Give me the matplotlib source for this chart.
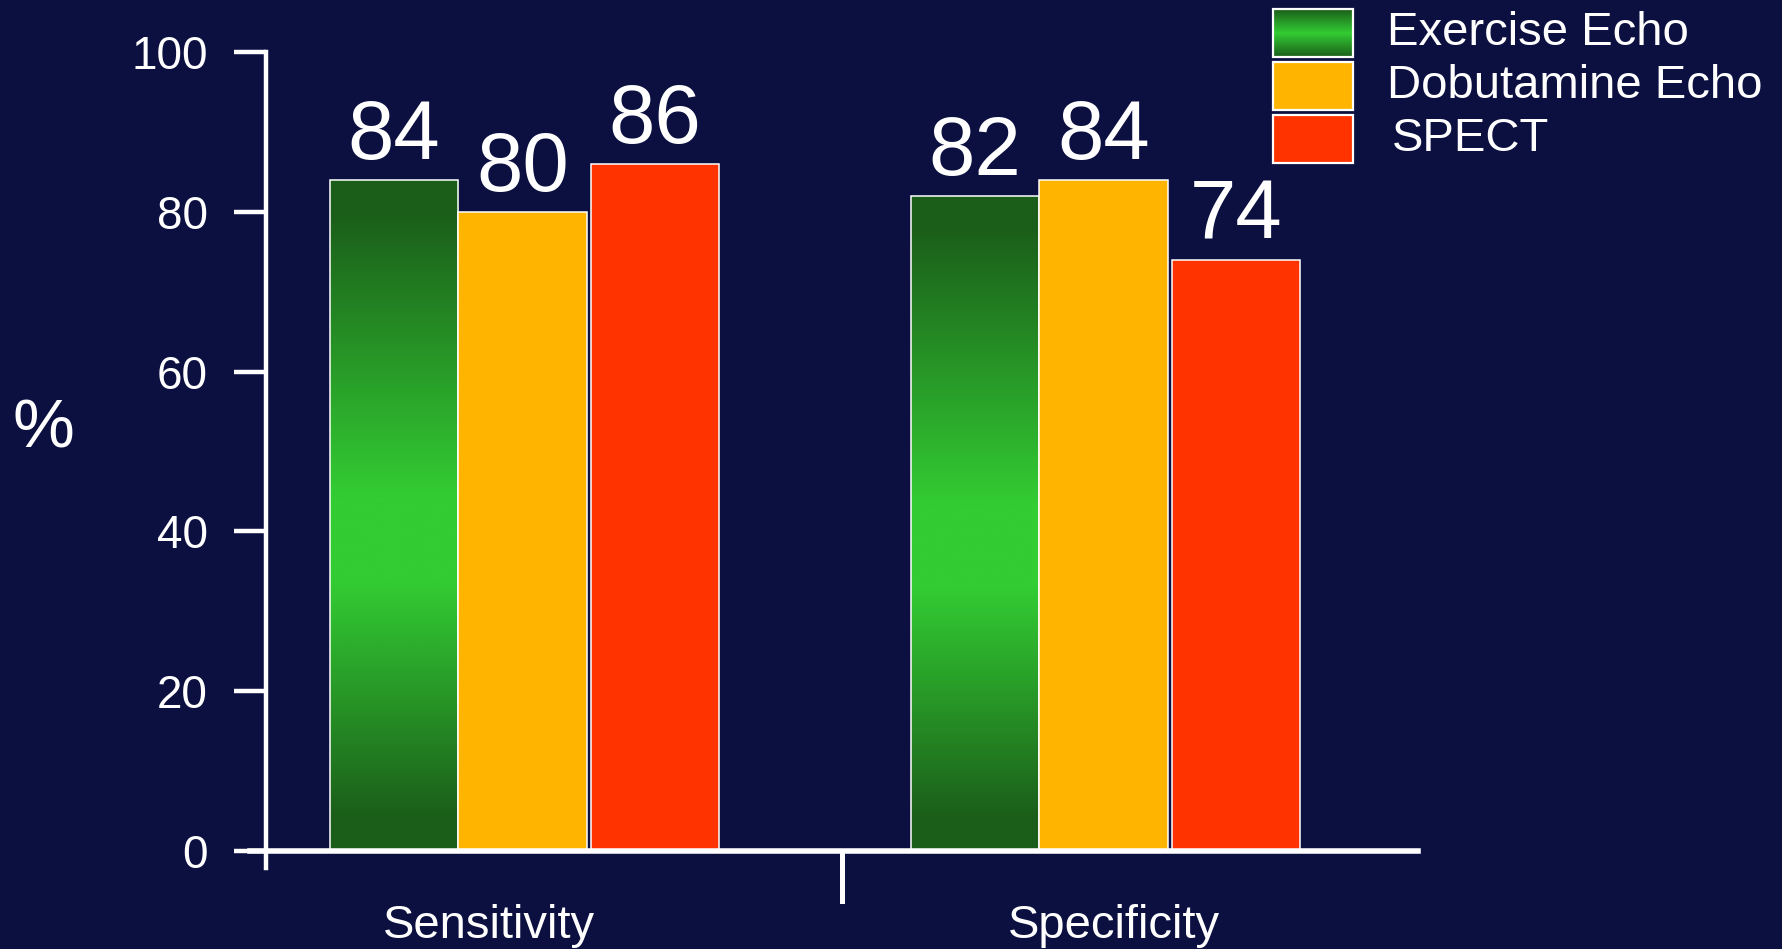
import matplotlib
matplotlib.use("Agg")
import matplotlib.pyplot as plt
import numpy as np
from matplotlib.colors import LinearSegmentedColormap
from matplotlib.patches import Rectangle

plt.rcParams['font.family'] = ['Liberation Sans', 'DejaVu Sans']

# ---- data ----
categories = ["Sensitivity", "Specificity"]
series_names = ["Exercise Echo", "Dobutamine Echo", "SPECT"]
exercise_echo = [84, 82]
dobutamine_echo = [80, 84]
spect = [86, 74]
y_ticks = [0, 20, 40, 60, 80, 100]

# ---- style ----
BG = "#0C1040"
YELLOW = "#FFB500"
RED = "#FF3300"
GREEN_DARK = "#1B5E1A"
GREEN_BRIGHT = "#33CC33"
# stops listed from the top of a bar downwards
green_cmap = LinearSegmentedColormap.from_list(
    "green_band",
    [(0.0, GREEN_DARK), (0.05, GREEN_DARK), (0.47, GREEN_BRIGHT),
     (0.60, GREEN_BRIGHT), (0.95, GREEN_DARK), (1.0, GREEN_DARK)])
grad = np.linspace(0, 1, 256).reshape(-1, 1)

W, H = 1783, 949
fig = plt.figure(figsize=(W / 100, H / 100), dpi=100, facecolor=BG)
ax = fig.add_axes([266 / W, 98 / H, 1152 / W, 799 / H])
ax.set_facecolor(BG)

x = np.arange(len(categories))
width = 0.2212
offsets = [-1.0 * width, 0.0, 1.03 * width]
edge_kw = dict(edgecolor="white", linewidth=1.1, zorder=3)

green_bars = ax.bar(x + offsets[0], exercise_echo, width, facecolor="none", **edge_kw)
yellow_bars = ax.bar(x + offsets[1], dobutamine_echo, width, facecolor=YELLOW, **edge_kw)
red_bars = ax.bar(x + offsets[2], spect, width, facecolor=RED, **edge_kw)

# vertical gradient fill for the exercise-echo bars
for b in green_bars:
    x0, y0, bw, bh = b.get_x(), b.get_y(), b.get_width(), b.get_height()
    im = ax.imshow(grad, extent=[x0, x0 + bw, y0, y0 + bh], origin="upper",
                   aspect="auto", cmap=green_cmap, zorder=2, interpolation="bicubic")
    im.set_clip_path(b)

ax.set_xlim(-0.4416, 1.5413)
ax.set_ylim(0, 100)

# value labels
for bars, vals in [(green_bars, exercise_echo), (yellow_bars, dobutamine_echo), (red_bars, spect)]:
    for b, v in zip(bars, vals):
        ax.annotate(f"{v}", (b.get_x() + b.get_width() / 2, v), xytext=(0, 15),
                    textcoords="offset points", ha="center", va="baseline",
                    fontsize=60, color="white", zorder=4)

# axes lines
for s in ax.spines.values():
    s.set_visible(False)
ax.axhline(0, xmin=-16 / 1152, xmax=1, color="white", lw=4.0, clip_on=False, zorder=5)
ax.axvline(ax.get_xlim()[0], ymin=-16.5 / 799, ymax=1, color="white", lw=3.2,
           clip_on=False, zorder=5)
ax.plot([0.5, 0.5], [0, -50 / 799], transform=ax.transAxes, color="white", lw=3.6,
        clip_on=False, zorder=5)

ax.set_yticks(y_ticks)
ax.set_yticklabels([str(t) for t in y_ticks])
ax.tick_params(axis="y", direction="out", length=23, width=3.2, pad=19,
               labelsize=33, colors="white")
ax.set_xticks([])

# category labels
label_shift = [-0.058, 0.018]
for xi, name, sh in zip(x, categories, label_shift):
    ax.text(xi + sh, -87 / 799, name, transform=ax.get_xaxis_transform(),
            ha="center", va="baseline", fontsize=34, color="white")

fig.text(43 / W, 1 - 430 / H, "%", ha="center", va="center", fontsize=50, color="white")

# legend
lax = fig.add_axes([0, 0, 1, 1])
lax.axis("off")
row_tops = [9, 62, 115]
row_h = 48
px0, pw = 1273, 80
fills = [None, YELLOW, RED]
text_x = [1387, 1387, 1392]
for top, name, fc, tx in zip(row_tops, series_names, fills, text_x):
    rect = Rectangle((px0, top), pw, row_h, facecolor=fc if fc else "none",
                     edgecolor="white", linewidth=1.6, zorder=3)
    lax.add_patch(rect)
    if fc is None:
        im = lax.imshow(grad, extent=[px0, px0 + pw, top + row_h, top], origin="lower",
                        aspect="auto", cmap=LinearSegmentedColormap.from_list(
                            "leg", [(0, GREEN_DARK), (0.5, GREEN_BRIGHT), (1, GREEN_DARK)]),
                        zorder=2, interpolation="bicubic")
        im.set_clip_path(rect)
    lax.text(tx, top + row_h / 2, name, ha="left", va="center", fontsize=34, color="white")
lax.set_xlim(0, W)
lax.set_ylim(H, 0)

fig.savefig("out.png", dpi=100, facecolor=BG)
